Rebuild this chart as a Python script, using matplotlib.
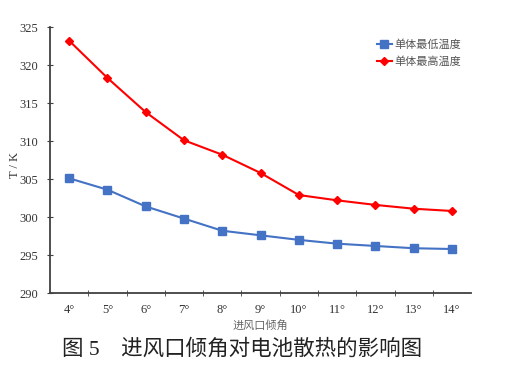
import numpy as np
import matplotlib.pyplot as plt

plt.rcParams['font.family'] = ['Liberation Serif', 'Noto Sans CJK SC']

angles = [4, 5, 6, 7, 8, 9, 10, 11, 12, 13, 14]
tick_labels = [f"{a}°" for a in angles]
t_min = [305.1, 303.6, 301.4, 299.8, 298.2, 297.6, 297.0, 296.5, 296.2, 295.9, 295.8]
t_max = [323.2, 318.3, 313.8, 310.1, 308.2, 305.8, 302.9, 302.2, 301.6, 301.1, 300.8]

fig = plt.figure(figsize=(5.05, 3.65), dpi=100)
ax = fig.add_axes([0.099, 0.197, 0.834, 0.729])

ax.plot(angles, t_min, color='#4472C4', marker='s', markersize=6, linewidth=1.5,
        label='单体最低温度')
ax.plot(angles, t_max, color='#FF0000', marker='D', markersize=4, linewidth=1.5,
        label='单体最高温度')

ax.set_xlim(3.5, 14.5)
ax.set_ylim(290, 325)
ax.set_yticks(np.arange(290, 326, 5))
ax.set_xticks(angles)
ax.set_xticklabels(tick_labels)
ax.set_xticks(np.arange(4.5, 14.5, 1), minor=True)
ax.tick_params(axis='x', which='major', length=0, pad=8, labelsize=9, labelcolor='#333333')
ax.tick_params(axis='x', which='minor', direction='inout', length=4, color='#404040')
ax.tick_params(axis='y', direction='inout', length=5, labelsize=9, labelcolor='#333333',
               color='#404040', pad=6)

for s in ['top', 'right']:
    ax.spines[s].set_visible(False)
for s in ['left', 'bottom']:
    ax.spines[s].set_color('#404040')
    ax.spines[s].set_linewidth(1.3)

ax.set_ylabel('T / K', fontsize=9, color='#333333')
ax.yaxis.set_label_coords(-0.068, 0.48)
ax.set_xlabel('进风口倾角', fontsize=8, color='#666666', labelpad=3,
              family=['Noto Sans CJK SC'])

leg = ax.legend(loc='upper right', bbox_to_anchor=(1.0, 0.99), frameon=False,
                handlelength=1.4, handletextpad=0.2, labelspacing=0.5,
                prop={'family': 'Noto Sans CJK SC', 'size': 8})
for t in leg.get_texts():
    t.set_color('#555555')

fig.text(0.48, 0.042, '图 5    进风口倾角对电池散热的影响图', ha='center', va='center',
         fontsize=15.5, color='#222222', family=['Liberation Serif', 'Noto Sans CJK SC'])

fig.savefig('out.png', dpi=100, facecolor='white')
